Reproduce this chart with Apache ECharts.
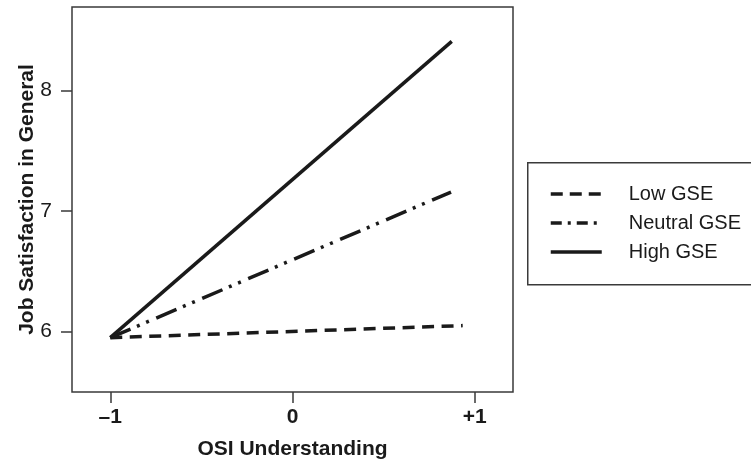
<!DOCTYPE html>
<html>
<head>
<meta charset="utf-8">
<script src="https://cdn.jsdelivr.net/npm/echarts@6/dist/echarts.min.js"></script>
<style>
html,body{margin:0;padding:0;background:#fff;}
#chart{width:751px;height:465px;}
</style>
</head>
<body>
<div id="chart"></div>
<script>
// Data
var seriesNames = ['Low GSE', 'Neutral GSE', 'High GSE'];
var lowGSE = [[-1, 5.95], [0.934, 6.05]];
var neutralGSE = [[-1, 5.95], [0.87, 7.157]];
var highGSE = [[-1, 5.95], [0.874, 8.405]];
var xTicks = [-1, 0, 1];
var xTickLabels = ['\u20131', '0', '+1'];
var yTicks = [6, 7, 8];
var xTitle = 'OSI Understanding';
var yTitle = 'Job Satisfaction in General';

var FONT = '"Liberation Sans", Arial, Helvetica, sans-serif';
var INK = '#1a1a1a';
var FRAME = '#3a3a3a';

var chart = echarts.init(document.getElementById('chart'), null, {renderer: 'canvas'});

function mkSeries(name, data, dash, width) {
  return {
    name: name,
    type: 'line',
    data: data,
    symbol: 'none',
    showSymbol: false,
    silent: true,
    animation: false,
    lineStyle: {color: INK, width: width, type: dash, cap: 'butt'},
    itemStyle: {color: INK}
  };
}

var option = {
  animation: false,
  backgroundColor: '#fff',
  grid: {
    left: 72, right: 238, top: 7, bottom: 72,
    show: true, borderColor: FRAME, borderWidth: 1.5, backgroundColor: 'transparent'
  },
  xAxis: {
    type: 'value',
    min: -1.21, max: 1.21,
    axisLine: {show: false, onZero: false},
    splitLine: {show: false},
    axisTick: {show: true, inside: false, length: 11, customValues: xTicks,
      lineStyle: {color: FRAME, width: 1.5}},
    axisLabel: {customValues: xTicks, margin: 15, color: INK, fontFamily: FONT,
      fontSize: 21, fontWeight: 'bold',
      formatter: function (v) { var i = xTicks.indexOf(v); return i >= 0 ? xTickLabels[i] : ''; }},
    name: xTitle,
    nameLocation: 'middle',
    nameGap: 47,
    nameMoveOverlap: false,
    nameTextStyle: {color: INK, fontFamily: FONT, fontSize: 21, fontWeight: 'bold'}
  },
  yAxis: {
    type: 'value',
    min: 5.5, max: 8.69,
    axisLine: {show: false, onZero: false},
    splitLine: {show: false},
    axisTick: {show: true, inside: false, length: 11, customValues: yTicks,
      lineStyle: {color: FRAME, width: 1.5}},
    axisLabel: {customValues: yTicks, margin: 20, color: INK, fontFamily: FONT,
      fontSize: 21, fontWeight: 'normal',
      formatter: function (v) { return String(v); }},
    name: yTitle,
    nameLocation: 'middle',
    nameGap: 34,
    nameRotate: 90,
    nameMoveOverlap: false,
    nameTextStyle: {color: INK, fontFamily: FONT, fontSize: 21, fontWeight: 'bold'}
  },
  legend: {
    orient: 'vertical',
    left: 549, top: 184,
    itemWidth: 51, itemHeight: 14, itemGap: 9,
    padding: 0,
    selectedMode: false,
    itemStyle: {opacity: 0, borderWidth: 0},
    textStyle: {color: INK, fontFamily: FONT, fontSize: 20, lineHeight: 20, padding: [0, 0, 0, 22]},
    data: [
      {name: seriesNames[0], lineStyle: {type: [12, 7], width: 3.5, color: INK, opacity: 1}},
      {name: seriesNames[1], lineStyle: {type: [11, 6, 3, 6], width: 3.5, color: INK, opacity: 1}},
      {name: seriesNames[2], lineStyle: {type: 'solid', width: 3.5, color: INK, opacity: 1}}
    ]
  },
  graphic: [{
    type: 'rect',
    left: 527, top: 162,
    shape: {width: 230, height: 122},
    style: {fill: 'transparent', stroke: FRAME, lineWidth: 1.5},
    silent: true,
    z: -1
  }],
  series: [
    mkSeries(seriesNames[0], lowGSE, [12, 7.5], 3.5),
    mkSeries(seriesNames[1], neutralGSE, [22, 7, 3, 7, 3, 8], 3.5),
    mkSeries(seriesNames[2], highGSE, 'solid', 3.5)
  ]
};
chart.setOption(option);
</script>
</body>
</html>
